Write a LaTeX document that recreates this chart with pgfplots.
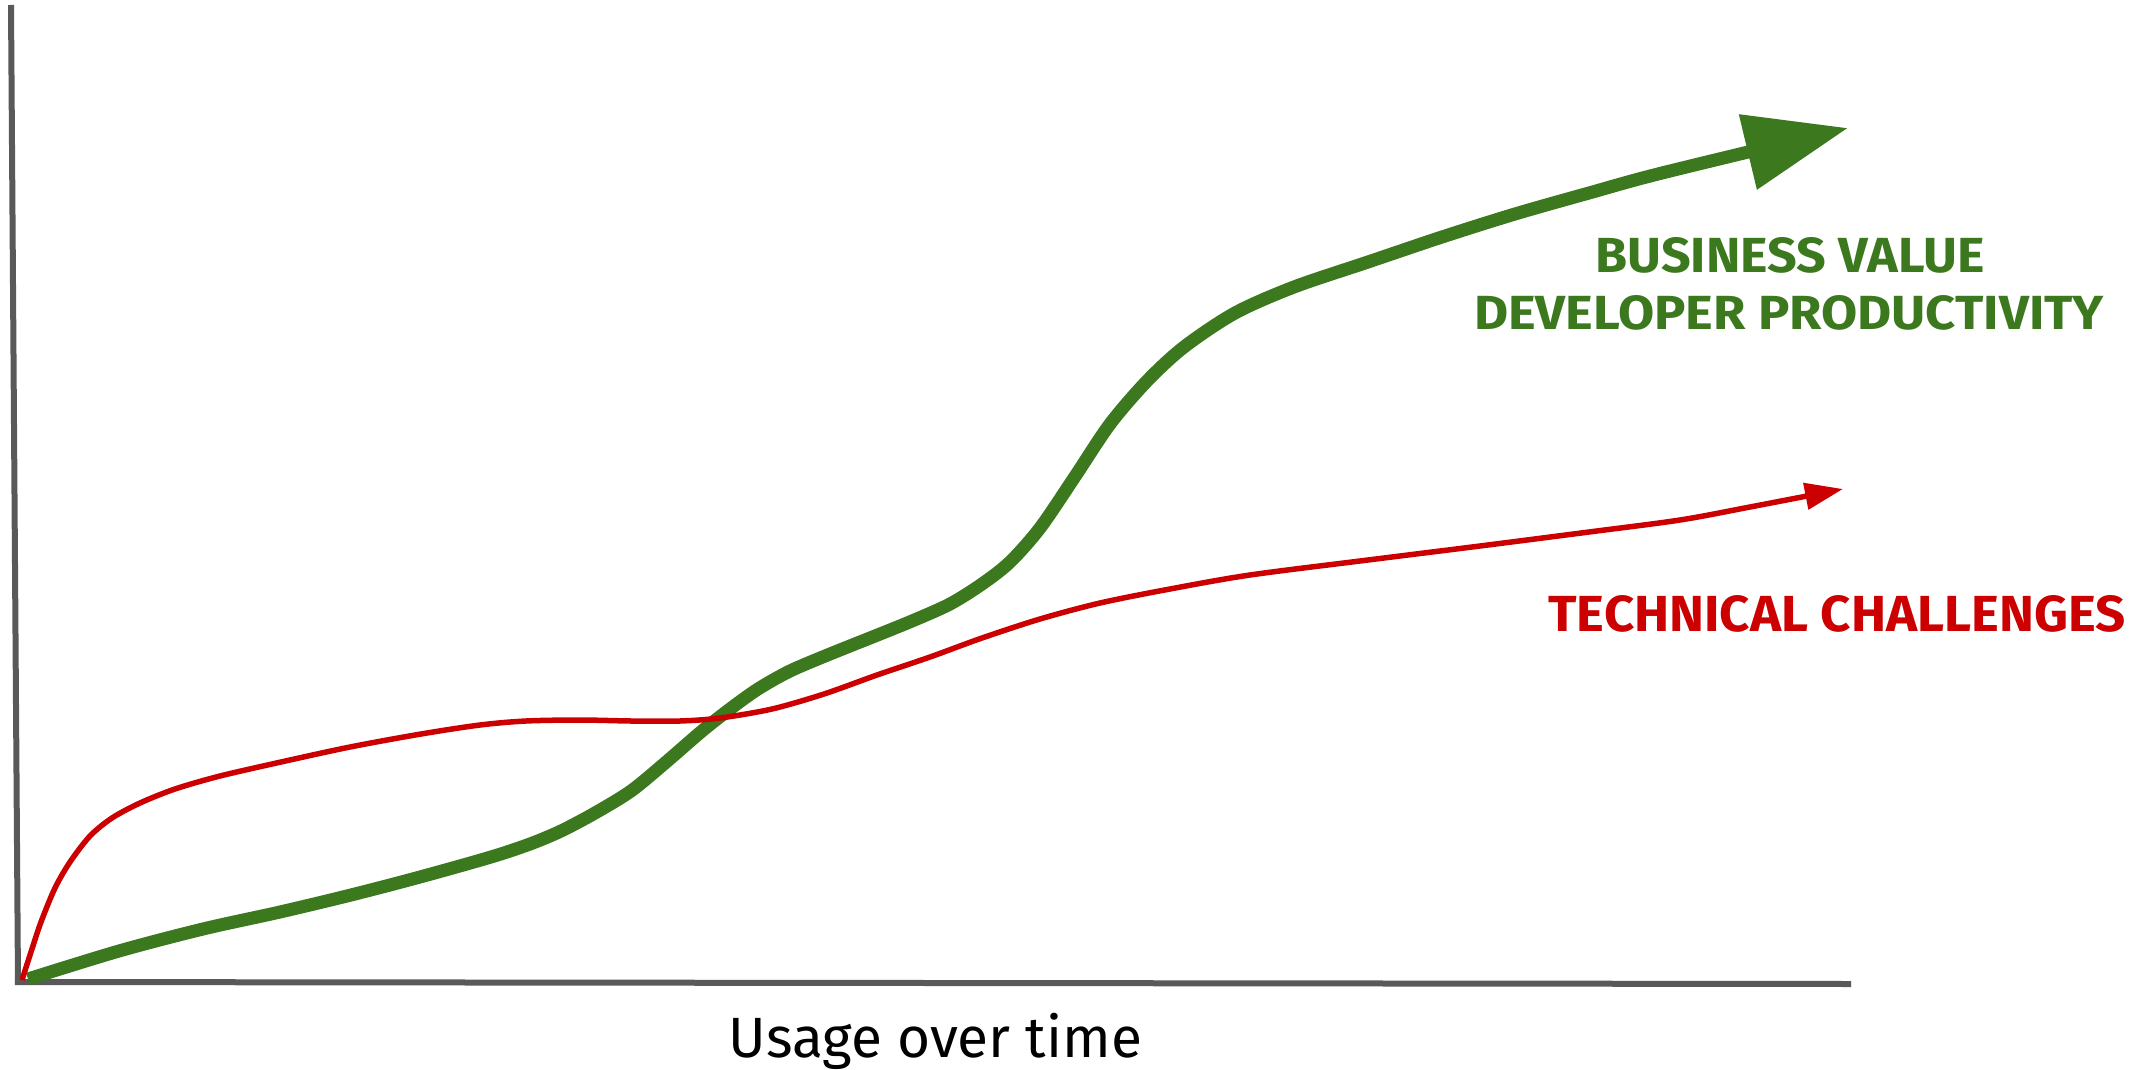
\documentclass[border=0pt]{standalone}
\usepackage{fontspec}
\setmainfont{Fira Sans}
\usepackage{graphicx}
\usepackage{pgfplots}
\pgfplotsset{compat=1.18}
\usetikzlibrary{arrows.meta}
\definecolor{bvgreen}{RGB}{59,120,30}
\definecolor{tcred}{RGB}{204,0,0}
\definecolor{axgray}{RGB}{89,89,89}
\begin{document}
\begin{tikzpicture}
\begin{axis}[
  width=215.4mm, height=106.6mm, scale only axis,
  xmin=0, xmax=2154, ymin=0, ymax=1066, y dir=reverse,
  hide axis, clip=false,
]
\addplot[draw=none] coordinates {(0,0) (2154,1066)};
% axes
\addplot[axgray, line width=0.6mm] coordinates {(11,5) (18,983)};
\addplot[axgray, line width=0.6mm] coordinates {(15,982) (1851,984)};
% business value / developer productivity
\addplot[bvgreen, line width=1.3mm, smooth, -{Triangle[length=10.3mm,width=7.4mm]}] coordinates {
(28,979) (119,951) (203,929) (280,912) (351,895) (420,877) (491,857) (530,844) (561,831) (595,813) (631,791) (665,763) (702,731) (730,709) (758,689) (790,671) (830,654) (870,638) (912,621) (950,604) (982,584) (1010,562) (1040,528) (1074,478) (1110,424) (1147,381) (1184,347) (1235,313) (1294,287) (1368,262) (1442,237) (1515,214) (1589,193) (1662,173) (1848,128)
};
% technical challenges
\addplot[tcred, line width=0.55mm, smooth, -{Triangle[length=3.8mm,width=2.6mm]}] coordinates {
(22,980) (31,952) (41,922) (55,888) (70,862) (90,836) (112,818) (140,803) (175,789) (220,776) (281,762) (350,747) (421,734) (480,725) (526,721) (580,720) (631,721) (680,721) (720,718) (772,709) (824,694) (877,675) (930,657) (982,638) (1040,619) (1100,603) (1170,589) (1250,575) (1368,560) (1480,546) (1589,532) (1680,520) (1750,507) (1843,489)
};
\node[inner sep=0, text=bvgreen] at (axis cs:1790,255) {\resizebox{38.9mm}{3.5mm}{\bfseries BUSINESS VALUE}};
\node[inner sep=0, text=bvgreen] at (axis cs:1789,313) {\resizebox{63.0mm}{3.4mm}{\bfseries DEVELOPER PRODUCTIVITY}};
\node[inner sep=0, text=tcred] at (axis cs:1837,614) {\resizebox{57.7mm}{3.6mm}{\bfseries TECHNICAL CHALLENGES}};
\node[inner sep=0, anchor=base] at (axis cs:935.5,1057) {\resizebox{41.3mm}{!}{Usage over time}};
\end{axis}
\end{tikzpicture}
\end{document}
